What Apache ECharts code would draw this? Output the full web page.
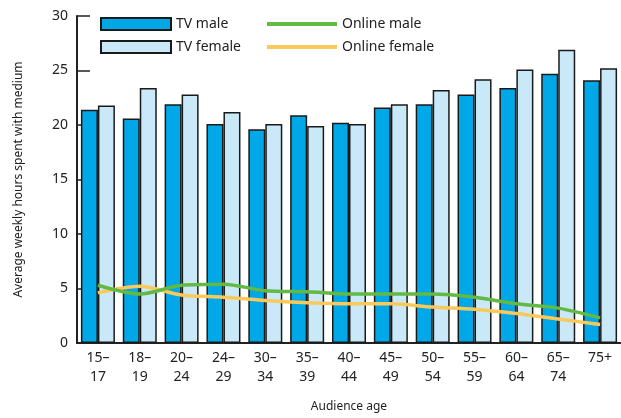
<!DOCTYPE html>
<html>
<head>
<meta charset="utf-8">
<script src="https://cdn.jsdelivr.net/npm/echarts@6/dist/echarts.min.js"></script>
<style>
  html, body { margin: 0; padding: 0; background: #fff; }
  #chart { width: 621px; height: 418px; }
</style>
</head>
<body>
<div id="chart"></div>
<script>
// 年龄段
var ageGroups = ['15–\n17', '18–\n19', '20–\n24', '24–\n29', '30–\n34', '35–\n39', '40–\n44', '45–\n49', '50–\n54', '55–\n59', '60–\n64', '65–\n74', '75+']
// 电视 (柱)
var tvMale = [21.4, 20.6, 21.9, 20.1, 19.6, 20.9, 20.2, 21.6, 21.9, 22.8, 23.4, 24.7, 24.1]
var tvFemale = [21.8, 23.4, 22.8, 21.2, 20.1, 19.9, 20.1, 21.9, 23.2, 24.2, 25.1, 26.9, 25.2]
// 网络 (线)
var onlineMale = [5.3, 4.5, 5.3, 5.4, 4.8, 4.7, 4.5, 4.5, 4.5, 4.2, 3.6, 3.2, 2.3]
var onlineFemale = [4.6, 5.2, 4.4, 4.2, 3.9, 3.7, 3.6, 3.6, 3.3, 3.1, 2.7, 2.2, 1.7]
var yTicks = [0, 5, 10, 15, 20, 25, 30]

var font = 'Noto Sans'
var myChart = echarts.init(document.getElementById('chart'))

var options = {
  backgroundColor: '#fff',
  animation: false,
  textStyle: { fontFamily: font, color: '#222' },
  legend: [
    {
      left: 95,
      top: 12,
      orient: 'vertical',
      icon: 'rect',
      itemWidth: 70,
      itemHeight: 12,
      itemGap: 9,
      textStyle: { fontFamily: font, fontSize: 14, color: '#222' },
      data: ['TV male', 'TV female']
    },
    {
      left: 260,
      top: 12,
      orient: 'vertical',
      itemWidth: 70,
      itemHeight: 12,
      itemGap: 9,
      lineStyle: { width: 4 },
      textStyle: { fontFamily: font, fontSize: 14, color: '#222' },
      data: [
        { name: 'Online male', itemStyle: { opacity: 0 } },
        { name: 'Online female', itemStyle: { opacity: 0 } }
      ]
    }
  ],
  grid: {
    left: 77,
    top: 16,
    bottom: 73,
    width: 546
  },
  xAxis: {
    type: 'category',
    data: ageGroups,
    boundaryGap: true,
    name: 'Audience age',
    nameLocation: 'middle',
    nameGap: 58,
    nameTextStyle: { fontFamily: font, fontSize: 12, color: '#222' },
    axisLine: { lineStyle: { color: '#222', width: 2 } },
    axisTick: { inside: true, length: 8, lineStyle: { color: '#222', width: 1.5 } },
    axisLabel: { fontFamily: font, fontSize: 14, color: '#222', lineHeight: 19, margin: 6 }
  },
  yAxis: {
    type: 'value',
    min: 0,
    max: 30,
    interval: 5,
    name: 'Average weekly hours spent with medium',
    nameLocation: 'middle',
    nameGap: 52,
    nameTextStyle: { fontFamily: font, fontSize: 12, color: '#222' },
    splitLine: { show: false },
    axisLine: { show: true, lineStyle: { color: '#222', width: 2 } },
    axisTick: { show: true, inside: true, length: 13, lineStyle: { color: '#222', width: 1.5 } },
    axisLabel: {
      fontFamily: font,
      fontSize: 14,
      color: '#222',
      margin: 9,
      formatter: function (v) { return yTicks.indexOf(v) >= 0 ? String(v) : '' }
    }
  },
  series: [
    {
      name: 'TV male',
      type: 'bar',
      data: tvMale,
      barWidth: 17,
      barGap: '0%',
      itemStyle: { color: '#00a8e8', borderColor: '#1a1a1a', borderWidth: 1.5 }
    },
    {
      name: 'TV female',
      type: 'bar',
      data: tvFemale,
      barWidth: 17,
      barGap: '0%',
      itemStyle: { color: '#c9e9f8', borderColor: '#1a1a1a', borderWidth: 1.5 }
    },
    {
      name: 'Online male',
      type: 'line',
      data: onlineMale,
      symbol: 'none',
      smooth: 0.3,
      z: 5,
      color: '#62b944',
      lineStyle: { color: '#62b944', width: 3.5 }
    },
    {
      name: 'Online female',
      type: 'line',
      data: onlineFemale,
      symbol: 'none',
      smooth: 0.3,
      z: 4,
      color: '#fbc95a',
      lineStyle: { color: '#fbc95a', width: 3.5 }
    }
  ]
}

myChart.setOption(options)
</script>
</body>
</html>
